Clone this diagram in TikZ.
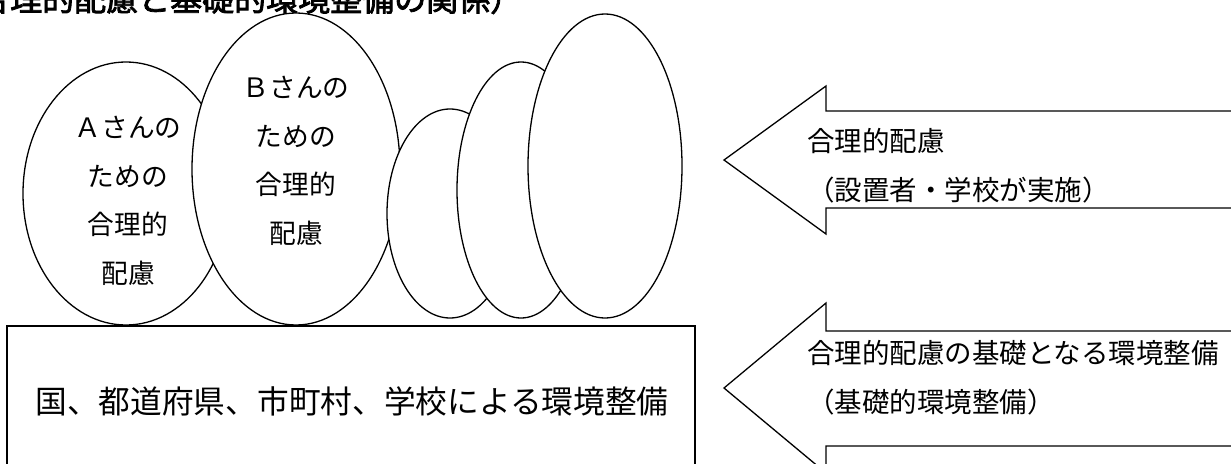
\documentclass[tikz,border=0pt]{standalone}
\usepackage{fontspec}
\setmainfont{Noto Sans CJK JP}
\newfontfamily\titlefont[FakeBold=2.5]{Noto Sans CJK JP}
\usetikzlibrary{shapes.geometric}
\tikzset{
  bubble/.style={ellipse, draw, fill=white, line width=1.3pt, inner sep=0pt, outer sep=0pt},
  bubbletext/.style={inner sep=0pt, align=center, font=\fontsize{26.7}{48.5}\selectfont},
  arrowshape/.style={draw, fill=white, line width=1.3pt, line join=miter},
  arrowtext/.style={anchor=west, inner sep=0pt, align=left, font=\fontsize{27.5}{49}\selectfont},
  basebox/.style={draw, line width=1.3pt, fill=white},
}
\begin{document}
\begin{tikzpicture}[x=1pt, y=-1pt]
\useasboundingbox (0,0) rectangle (1231,463);
% title (cut off by the top edge)
\node[anchor=base west, inner sep=0pt, font=\titlefont\fontsize{32}{32}\selectfont] (title) at (-22,11) {合理的配慮と基礎的環境整備の関係）};
% base box
\draw[basebox] (7,326) rectangle (695,480);
\node[inner sep=0pt, font=\fontsize{31.7}{32}\selectfont] (basetext) at (352,401) {国、都道府県、市町村、学校による環境整備};
% ellipses (drawn in order, each covering the previous one)
\node[bubble, minimum width=206pt, minimum height=263pt] (A) at (126,193.5) {};
\node[bubble, minimum width=208pt, minimum height=312pt] (B) at (296,169) {};
\node[bubble, minimum width=126pt, minimum height=209pt] (C) at (450,213.5) {};
\node[bubble, minimum width=128pt, minimum height=256pt] (D) at (521,190) {};
\node[bubble, minimum width=154pt, minimum height=304pt] (E) at (605,166) {};
\node[bubbletext] (Atext) at (128,201) {Ａさんの\\ための\\合理的\\配慮};
\node[bubbletext] (Btext) at (296,161) {Ｂさんの\\ための\\合理的\\配慮};
% arrows
\draw[arrowshape] (1240,111) -- (826,111) -- (826,86) -- (724,160) -- (826,234) -- (826,208) -- (1240,208);
\node[arrowtext] (arrowA) at (807,165.5) {合理的配慮\\（設置者・学校が実施）};
\draw[arrowshape] (1240,331) -- (826,331) -- (826,303) -- (724,388) -- (826,473) -- (826,446) -- (1240,446);
\node[arrowtext] (arrowB) at (807,377.5) {合理的配慮の基礎となる環境整備\\（基礎的環境整備）};
\end{tikzpicture}
\end{document}
